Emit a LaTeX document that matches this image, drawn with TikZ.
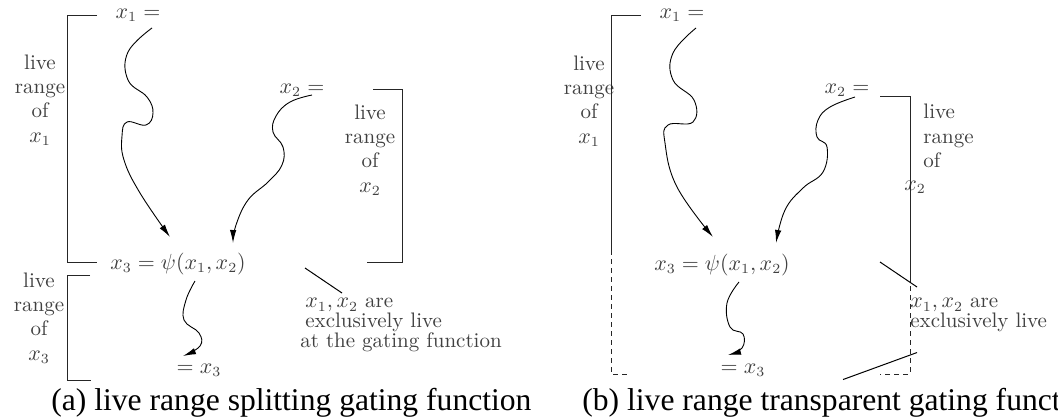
\documentclass[tikz,border=0pt]{standalone}
\usepackage{fontspec}
\newfontfamily\capfont{Liberation Serif}
\usetikzlibrary{arrows.meta, positioning, calc}
\tikzset{
  lbl/.style={font=\fontsize{10.5}{12.2}\selectfont, text=black!75, inner sep=0pt, align=center},
  remark/.style={font=\fontsize{10.5}{10}\selectfont, text=black!75, inner sep=0pt, align=left, anchor=north west},
  subcap/.style={font=\capfont\fontsize{15.8}{18}\selectfont, inner sep=0pt, anchor=base west},
  flow/.style={-{Latex[length=6.5pt,width=3.2pt]}, line width=0.45pt},
  rng/.style={line width=0.5pt, black!85},
  rngdash/.style={rng, dash pattern=on 2.5pt off 2pt},
  pointer/.style={line width=0.5pt}
}

\begin{document}
\begin{tikzpicture}[x=0.5pt, y=-0.5pt]
  \useasboundingbox (0,0) rectangle (1058,418);
  \clip (0,0) rectangle (1058,418);

  % (a) live range splitting
  \node[lbl] (a-x1) at (138,15) {$x_1 =$};
  \node[lbl] (a-x2) at (302,90) {$x_2 =$};
  \node[lbl] (a-x3) at (178,264) {$x_3 = \psi(x_1, x_2)$};
  \node[lbl] (a-y3) at (199,370) {$= x_3$};
  \node[lbl] (a-r1) at (40,100) {live\\range\\of\\$x_1$};
  \node[lbl] (a-r2) at (370,150) {live\\range\\of\\$x_2$};
  \node[lbl] (a-r3) at (39,318) {live\\range\\of\\$x_3$};
  \node[remark] (a-note) at (300,298) {\hspace*{2.5pt}$x_1, x_2$ are\\\hspace*{2.5pt}exclusively live\\at the gating function};

  \draw[rng] (97,15) -| (67,262) -- (97,262);
  \draw[rng] (373,89) -| (402,262) -- (367,262);
  \draw[rng] (90,275) -| (67,380) -- (91,380);

  \draw[flow] plot[smooth, tension=0.7] coordinates {($(a-x1)+(14,13)$) (128,52) (128,80) (147,97) (153,113) (146,125) (127,122) (122,136) (124,160) (140,193) ($(a-x3)+(-8,-27)$)};
  \draw[flow] plot[smooth, tension=0.7] coordinates {($(a-x2)+(10,5)$) (290,102) (276,116) (273,132) (283,147) (282,165) (268,182) (248,200) (236,225) ($(a-x3)+(55,-21)$)};
  \draw[flow] plot[smooth, tension=0.7] coordinates {($(a-x3)+(17,17)$) (186,300) (184,320) (199,333) (200,346) ($(a-y3)+(-16,-14)$)};
  \draw[pointer] ($(a-note.north west)+(5,-30)$) -- ($(a-note.north west)+(42,-5)$);

  \node[subcap] (a-cap) at (51,410) {(a) live range splitting gating function};

  % (b) live range transparent
  \node[lbl] (b-x1) at (682,15) {$x_1 =$};
  \node[lbl] (b-x2) at (847,90) {$x_2 =$};
  \node[lbl] (b-x3) at (722,265) {$x_3 = \psi(x_1, x_2)$};
  \node[lbl] (b-y3) at (743,370) {$= x_3$};
  \node[lbl] (b-r1) at (589,101) {live\\range\\of\\$x_1$};
  \node[lbl, align=left, anchor=north west] (b-r2) at (923,104) {live\\range\\of};
  \node[lbl] (b-r2x) at (915,187) {$x_2$};
  \node[remark] (b-note) at (910,298) {$x_1, x_2$ are\\exclusively live};

  \draw[rng] (641,15) -- (611,15) -- (611,250);
  \draw[rngdash] (611,250) |- (630,374);
  \draw[rng] (880,96) -- (910,96) -- (910,277);
  \draw[rngdash] (910,277) |- (880,374);

  \draw[flow] plot[smooth, tension=0.7] coordinates {($(b-x1)+(14,13)$) (673,53) (673,80) (694,100) (693,122) (668,125) (665,143) (677,187) ($(b-x3)+(-9,-28)$)};
  \draw[flow] plot[smooth, tension=0.7] coordinates {($(b-x2)+(8,7)$) (830,107) (818,120) (817,137) (827,147) (823,172) (803,188) (785,210) ($(b-x3)+(54,-22)$)};
  \draw[flow] plot[smooth, tension=0.7] coordinates {($(b-x3)+(17,17)$) (727,303) (730,327) (743,334) (742,348) ($(b-y3)+(-15,-15)$)};
  \draw[pointer] ($(b-note.north west)+(-30,-36)$) -- ($(b-note.north west)+(7,-11)$);
  \draw[pointer] ($(b-note.south west)+(-67,47)$) -- ($(b-note.south west)+(7,20)$);

  \node[subcap] (b-cap) at (582,410) {(b) live range transparent gating function};
\end{tikzpicture}
\end{document}
